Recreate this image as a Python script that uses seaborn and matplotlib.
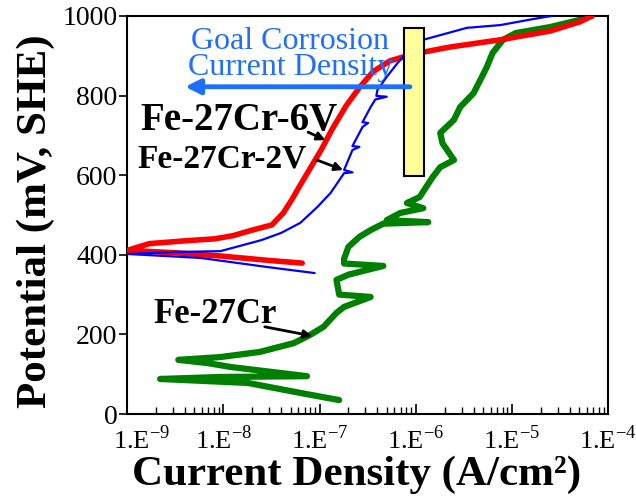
import matplotlib
matplotlib.use("Agg")
import matplotlib.pyplot as plt
import matplotlib.transforms as mtransforms
import pandas as pd
import seaborn as sns
from matplotlib.patches import Rectangle
from matplotlib.ticker import FixedLocator, FixedFormatter, LogLocator, NullFormatter

# Fe-27Cr-6V (red)
red_current = [6.6e-8, 2.9e-8, 9.3e-9, 3.2e-9, 1.0e-9, 1.7e-9, 4.0e-9, 8.1e-9, 1.26e-8,
               2.0e-8, 3.2e-8, 4.2e-8, 5.2e-8, 6.3e-8, 7.9e-8, 1.05e-7, 1.35e-7, 1.9e-7,
               2.6e-7, 3.6e-7, 5.4e-7, 7.4e-7, 1.26e-6, 2.3e-6, 7.6e-6, 2.5e-5, 5.1e-5, 6.8e-5]
red_potential = [379, 386, 397, 405, 411, 428, 435, 440, 448,
                 462, 475, 505, 540, 575, 615, 665, 715, 775,
                 820, 860, 887, 897, 910, 922, 940, 962, 985, 1000]

# Fe-27Cr-2V (blue)
blue_current = [8.9e-8, 2.9e-8, 5.8e-9, 1.0e-9, 3.2e-9, 9.3e-9, 2.5e-8, 4.0e-8, 6.3e-8,
                9.5e-8, 1.3e-7, 1.8e-7, 2.2e-7, 1.8e-7, 2.2e-7, 2.6e-7, 2.2e-7, 2.8e-7,
                3.2e-7, 2.8e-7, 3.4e-7, 3.8e-7, 5.0e-7, 3.9e-7, 4.0e-7, 5.0e-7, 6.5e-7,
                7.4e-7, 1.2e-6, 3.4e-6, 7.6e-6, 1.66e-5, 2.6e-5]
blue_potential = [354, 369, 392, 402, 407, 409, 437, 455, 480,
                  520, 555, 605, 607, 613, 663, 671, 673, 721,
                  731, 733, 771, 790, 797, 799, 814, 847, 882,
                  897, 940, 970, 977, 992, 1000]

# Fe-27Cr (green)
green_current = [1.6e-7, 6.3e-8, 1.8e-8, 2.2e-9, 9.3e-9, 7.4e-8, 1.2e-8, 6.8e-9, 3.4e-9,
                 9.3e-9, 2.4e-8, 5.4e-8, 7.9e-8, 1.1e-7, 1.5e-7, 1.8e-7, 3.4e-7, 1.6e-7,
                 1.5e-7, 2.0e-7, 4.6e-7, 1.8e-7, 1.8e-7, 2.0e-7, 2.6e-7, 3.4e-7, 4.6e-7,
                 1.35e-6, 5.0e-7, 6.9e-7, 1.2e-6, 8.1e-7, 1.1e-6, 1.5e-6, 1.8e-6, 2.5e-6,
                 1.9e-6, 1.8e-6, 2.5e-6, 2.9e-6, 4.0e-6, 4.7e-6, 5.5e-6, 6.3e-6, 8.1e-6,
                 1.1e-5, 2.5e-5, 5.1e-5, 6.8e-5]
green_potential = [35, 53, 78, 88, 93, 95, 118, 128, 136,
                   143, 156, 178, 198, 219, 254, 269, 294, 300,
                   337, 350, 372, 378, 390, 420, 445, 462, 478,
                   482, 487, 505, 517, 530, 545, 595, 620, 638,
                   680, 706, 739, 771, 806, 839, 872, 907, 940,
                   957, 972, 990, 1000]

x_ticks = [1e-9, 1e-8, 1e-7, 1e-6, 1e-5, 1e-4]
x_tick_labels = ["1.E$^{\\mathrm{-9}}$", "1.E$^{\\mathrm{-8}}$", "1.E$^{\\mathrm{-7}}$",
                 "1.E$^{\\mathrm{-6}}$", "1.E$^{\\mathrm{-5}}$", "1.E$^{\\mathrm{-4}}$"]
y_ticks = [0, 200, 400, 600, 800, 1000]

sns.set_style("ticks")
plt.rcParams["font.family"] = ["Liberation Serif", "DejaVu Serif"]
plt.rcParams["mathtext.fontset"] = "custom"
plt.rcParams["mathtext.rm"] = "Liberation Serif"
plt.rcParams["mathtext.bf"] = "Liberation Serif:bold"
for key in ["text.color", "axes.labelcolor", "xtick.color", "ytick.color"]:
    plt.rcParams[key] = "black"

fig = plt.figure(figsize=(6.36, 4.97), dpi=100)
ax = fig.add_axes([0.2, 0.167, 0.756, 0.801])

red_df = pd.DataFrame({"current": red_current, "potential": red_potential})
blue_df = pd.DataFrame({"current": blue_current, "potential": blue_potential})
green_df = pd.DataFrame({"current": green_current, "potential": green_potential})

sns.lineplot(data=green_df, x="current", y="potential", sort=False, estimator=None,
             color="#008000", linewidth=4.5, ax=ax, zorder=2)
sns.lineplot(data=red_df, x="current", y="potential", sort=False, estimator=None,
             color="#FF0000", linewidth=4, ax=ax, zorder=3)
sns.lineplot(data=blue_df, x="current", y="potential", sort=False, estimator=None,
             color="#0000FF", linewidth=1.6, ax=ax, zorder=4)

ax.set_xscale("log")
ax.set_xlim(1e-9, 1e-4)
ax.set_ylim(0, 1000)

ax.xaxis.set_major_locator(FixedLocator(x_ticks))
ax.xaxis.set_major_formatter(FixedFormatter(x_tick_labels))
ax.xaxis.set_minor_locator(LogLocator(base=10, subs=range(2, 10)))
ax.xaxis.set_minor_formatter(NullFormatter())
ax.set_yticks(y_ticks)

ax.tick_params(axis="x", which="major", direction="in", length=7, width=1.2,
               labelsize=19, pad=8)
ax.tick_params(axis="x", which="minor", direction="in", length=5, width=1)
ax.tick_params(axis="y", which="major", direction="out", length=6, width=1.2,
               labelsize=20, pad=1)
for spine in ax.spines.values():
    spine.set_visible(True)
    spine.set_linewidth(1.5)
    spine.set_color("black")

# first x label sits a little right of its tick so it clears the "0"
first_label = ax.get_xticklabels()[0]
first_label.set_transform(first_label.get_transform()
                          + mtransforms.ScaledTranslation(0.14, 0, fig.dpi_scale_trans))

ax.set_xlabel("Current Density (A/cm²)", fontsize=31, fontweight="bold")
ax.set_ylabel("Potential (mV, SHE)", fontsize=31, fontweight="bold")
ax.xaxis.set_label_coords(0.478, -0.105)
ax.yaxis.set_label_coords(-0.15, 0.485)

# goal window box
ax.add_patch(Rectangle((7.6e-7, 598), 1.23e-6 - 7.6e-7, 372, facecolor="#FFFF99",
                       edgecolor="black", linewidth=1.5, zorder=5))

# goal arrow and text
ax.annotate("", xy=(4.0e-9, 822), xytext=(8.7e-7, 822),
            arrowprops=dict(arrowstyle="-|>", color="#1E6EFF", lw=3.5,
                            mutation_scale=22, shrinkA=0, shrinkB=0,
                            joinstyle="round"), zorder=6)
ax.text(4.95e-8, 903, "Goal Corrosion\nCurrent Density", color="#1E6EFF",
        fontsize=23, ha="center", va="center", linespacing=0.9, zorder=6)

# alloy labels
ax.text(1.36e-9, 714, "Fe-27Cr-6V", fontsize=28, fontweight="bold",
        ha="left", va="baseline", zorder=6)
ax.text(1.27e-9, 620, "Fe-27Cr-2V", fontsize=24, fontweight="bold",
        ha="left", va="baseline", zorder=6)
ax.text(1.86e-9, 229, "Fe-27Cr", fontsize=25, fontweight="bold",
        ha="left", va="baseline", zorder=6)

arrow_style = dict(arrowstyle="-|>", color="black", lw=2, mutation_scale=12,
                   shrinkA=0, shrinkB=0, joinstyle="round")
ax.annotate("", xy=(1.15e-7, 688), xytext=(7.6e-8, 708), arrowprops=arrow_style, zorder=6)
ax.annotate("", xy=(1.76e-7, 613), xytext=(9.4e-8, 638), arrowprops=arrow_style, zorder=6)
ax.annotate("", xy=(8.4e-8, 196), xytext=(2.7e-8, 219), arrowprops=arrow_style, zorder=6)

fig.savefig("out.png", dpi=100)
